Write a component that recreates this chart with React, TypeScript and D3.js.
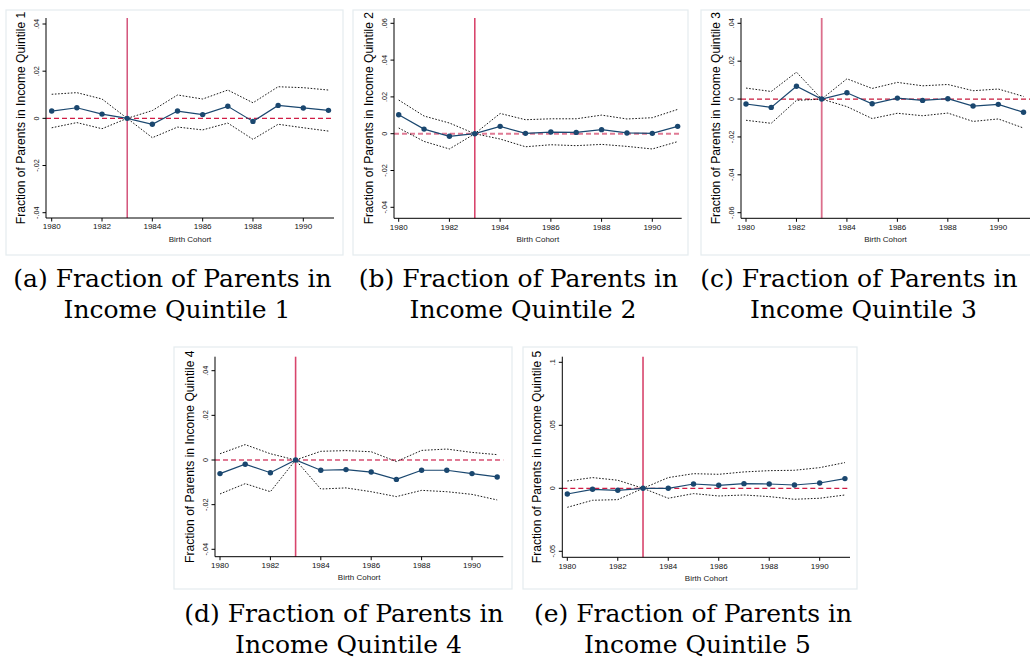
import React from "react";
import * as d3 from "d3";

const years = [1980, 1981, 1982, 1983, 1984, 1985, 1986, 1987, 1988, 1989, 1990, 1991];
const xTicks = [1980, 1982, 1984, 1986, 1988, 1990];
const refYear = 1983;

const q1Coef = [0.0031, 0.0045, 0.0018, 0, -0.0025, 0.0031, 0.0016, 0.0051, -0.0013, 0.0055, 0.0044, 0.0034];
const q1Upper = [0.0102, 0.0109, 0.0082, 0, 0.0033, 0.0099, 0.0082, 0.012, 0.0066, 0.0134, 0.013, 0.012];
const q1Lower = [-0.004, -0.0018, -0.0044, 0, -0.0082, -0.0037, -0.0049, -0.002, -0.0089, -0.0025, -0.004, -0.0054];

const q2Coef = [0.0103, 0.0025, -0.0014, 0, 0.004, 0.0002, 0.0009, 0.0007, 0.0022, 0.0004, 0.0002, 0.004];
const q2Upper = [0.0183, 0.0096, 0.0058, 0, 0.011, 0.0076, 0.0081, 0.0081, 0.0101, 0.008, 0.0087, 0.0132];
const q2Lower = [0.0031, -0.0042, -0.0083, 0, -0.0029, -0.0071, -0.006, -0.0065, -0.0058, -0.0069, -0.0083, -0.0043];

const q3Coef = [-0.0026, -0.0044, 0.0068, 0, 0.0033, -0.0025, 0.0005, -0.0007, 0.0002, -0.0037, -0.0028, -0.007];
const q3Upper = [0.0058, 0.004, 0.0142, 0, 0.0107, 0.0056, 0.0088, 0.007, 0.0077, 0.0044, 0.0053, 0.0014];
const q3Lower = [-0.0112, -0.0128, -0.0007, 0, -0.004, -0.0103, -0.0075, -0.0088, -0.0074, -0.0118, -0.0105, -0.0153];

const q4Coef = [-0.0061, -0.0019, -0.0057, 0, -0.0046, -0.0043, -0.0054, -0.0087, -0.0046, -0.0046, -0.0061, -0.0076];
const q4Upper = [0.0028, 0.0069, 0.0028, 0, 0.0039, 0.0042, 0.0037, -0.0007, 0.0043, 0.0049, 0.0034, 0.0024];
const q4Lower = [-0.0152, -0.0106, -0.0142, 0, -0.013, -0.0125, -0.0142, -0.0164, -0.0136, -0.0142, -0.0154, -0.0179];

const q5Coef = [-0.0045, -0.0008, -0.0016, 0, 0, 0.0034, 0.0024, 0.0037, 0.0034, 0.0026, 0.0042, 0.0077];
const q5Upper = [0.0058, 0.0085, 0.0064, 0, 0.0085, 0.0116, 0.0111, 0.013, 0.014, 0.0143, 0.0164, 0.0204];
const q5Lower = [-0.0151, -0.0095, -0.009, 0, -0.0079, -0.0042, -0.0061, -0.0053, -0.0066, -0.0087, -0.0079, -0.0053];

const yTicks1 = [-0.04, -0.02, 0, 0.02, 0.04];
const yLabels1 = ["-.04", "-.02", "0", ".02", ".04"];
const yTicks2 = [-0.04, -0.02, 0, 0.02, 0.04, 0.06];
const yLabels2 = ["-.04", "-.02", "0", ".02", ".04", ".06"];
const yTicks3 = [-0.06, -0.04, -0.02, 0, 0.02, 0.04];
const yLabels3 = ["-.06", "-.04", "-.02", "0", ".02", ".04"];
const yTicks4 = [-0.04, -0.02, 0, 0.02, 0.04];
const yLabels4 = ["-.04", "-.02", "0", ".02", ".04"];
const yTicks5 = [-0.05, 0, 0.05, 0.1];
const yLabels5 = ["-.05", "0", ".05", ".1"];

const yTitles = [
  "Fraction of Parents in Income Quintile 1",
  "Fraction of Parents in Income Quintile 2",
  "Fraction of Parents in Income Quintile 3",
  "Fraction of Parents in Income Quintile 4",
  "Fraction of Parents in Income Quintile 5",
];
const xTitle = "Birth Cohort";
const captionLine1 = [
  "(a) Fraction of Parents in",
  "(b) Fraction of Parents in",
  "(c) Fraction of Parents in",
  "(d) Fraction of Parents in",
  "(e) Fraction of Parents in",
];
const captionLine2 = [
  "Income Quintile 1",
  "Income Quintile 2",
  "Income Quintile 3",
  "Income Quintile 4",
  "Income Quintile 5",
];

// layout (pixel geometry per panel)
const layouts = [
  { fx0: 6, fx1: 343, fy0: 10, fy1: 255, axX: 46, axTop: 18, axBot: 218, yMinPx: 212.7, yMaxPx: 24, x1980: 51.7, x1990: 303.3, axRight: 334, capX: 172.5, capY: 287, zeroCol: "#d01c44", zeroW: 1.3, vCol: "#c8285a", vW: 1.2 },
  { fx0: 353, fx1: 688, fy0: 10, fy1: 255, axX: 394, axTop: 18, axBot: 218.3, yMinPx: 207.3, yMaxPx: 23.3, x1980: 398.7, x1990: 652.3, axRight: 681.7, capX: 518.5, capY: 287, zeroCol: "#e07a94", zeroW: 2, vCol: "#d8456c", vW: 1.6 },
  { fx0: 701, fx1: 1034, fy0: 10, fy1: 255, axX: 741, axTop: 18, axBot: 218.3, yMinPx: 212.7, yMaxPx: 23.3, x1980: 746, x1990: 998.3, axRight: 1030, capX: 859, capY: 287, zeroCol: "#c81a3c", zeroW: 1.3, vCol: "#dc6f8c", vW: 1.8 },
  { fx0: 174, fx1: 512, fy0: 347, fy1: 589, axX: 215, axTop: 356.7, axBot: 556.7, yMinPx: 549.3, yMaxPx: 370.7, x1980: 220, x1990: 472, axRight: 503.3, capX: 344, capY: 621.5, zeroCol: "#e07a94", zeroW: 2, vCol: "#d8456c", vW: 1.6 },
  { fx0: 523, fx1: 857, fy0: 347, fy1: 589, axX: 562.3, axTop: 356.7, axBot: 557.3, yMinPx: 551.3, yMaxPx: 362.3, x1980: 567.3, x1990: 819.7, axRight: 850, capX: 693, capY: 621.5, zeroCol: "#d01c44", zeroW: 1.3, vCol: "#d8456c", vW: 1.6 },
];

const panelData = [
  { coef: q1Coef, upper: q1Upper, lower: q1Lower, yTicks: yTicks1, yLabels: yLabels1 },
  { coef: q2Coef, upper: q2Upper, lower: q2Lower, yTicks: yTicks2, yLabels: yLabels2 },
  { coef: q3Coef, upper: q3Upper, lower: q3Lower, yTicks: yTicks3, yLabels: yLabels3 },
  { coef: q4Coef, upper: q4Upper, lower: q4Lower, yTicks: yTicks4, yLabels: yLabels4 },
  { coef: q5Coef, upper: q5Upper, lower: q5Lower, yTicks: yTicks5, yLabels: yLabels5 },
];

const sans = "'Liberation Sans', Arial, sans-serif";
const serif = "'DejaVu Serif', serif";
const navy = "#1a476f";

function Panel({ idx }: { idx: number }) {
  const L = layouts[idx];
  const D = panelData[idx];
  const x = d3.scaleLinear().domain([1980, 1990]).range([L.x1980, L.x1990]);
  const yMin = D.yTicks[0];
  const yMax = D.yTicks[D.yTicks.length - 1];
  const y = d3.scaleLinear().domain([yMin, yMax]).range([L.yMinPx, L.yMaxPx]);
  const line = d3
    .line<number>()
    .x((_, i) => x(years[i]))
    .y((v) => y(v));
  const yMid = (L.axTop + L.axBot) / 2;
  const xMid = (L.axX + L.axRight) / 2;
  return (
    <g>
      <rect x={L.fx0} y={L.fy0} width={L.fx1 - L.fx0} height={L.fy1 - L.fy0} fill="#ffffff" stroke="#e4ecef" strokeWidth={1.2} />
      <line x1={L.axX} x2={L.axRight} y1={y(0)} y2={y(0)} stroke={L.zeroCol} strokeWidth={L.zeroW} strokeDasharray="5,3" />
      <line x1={x(refYear)} x2={x(refYear)} y1={L.axTop} y2={L.axBot} stroke={L.vCol} strokeWidth={L.vW} />
      <path d={line(D.upper) || ""} fill="none" stroke="#1a1a1a" strokeWidth={1} strokeDasharray="1.6,1.6" />
      <path d={line(D.lower) || ""} fill="none" stroke="#1a1a1a" strokeWidth={1} strokeDasharray="1.6,1.6" />
      <path d={line(D.coef) || ""} fill="none" stroke={navy} strokeWidth={1.2} />
      {D.coef.map((v, i) => (
        <circle key={i} cx={x(years[i])} cy={y(v)} r={2.7} fill={navy} />
      ))}
      <line x1={L.axX} x2={L.axX} y1={L.axTop} y2={L.axBot} stroke="#000" strokeWidth={1} />
      <line x1={L.axX} x2={L.axRight} y1={L.axBot} y2={L.axBot} stroke="#000" strokeWidth={1} />
      {D.yTicks.map((t, i) => (
        <g key={i}>
          <line x1={L.axX - 3.5} x2={L.axX} y1={y(t)} y2={y(t)} stroke="#000" strokeWidth={1} />
          <text
            transform={`translate(${L.axX - 7.5},${y(t)}) rotate(-90)`}
            textAnchor="middle"
            fontFamily={sans}
            fontSize={7.3}
            fill="#111"
          >
            {D.yLabels[i]}
          </text>
        </g>
      ))}
      {xTicks.map((t) => (
        <g key={t}>
          <line x1={x(t)} x2={x(t)} y1={L.axBot} y2={L.axBot + 3.5} stroke="#000" strokeWidth={1} />
          <text x={x(t)} y={L.axBot + 11.3} textAnchor="middle" fontFamily={sans} fontSize={8} fill="#111">
            {t}
          </text>
        </g>
      ))}
      <text x={xMid} y={L.axBot + 23.5} textAnchor="middle" fontFamily={sans} fontSize={8} fill="#222">
        {xTitle}
      </text>
      <text
        transform={`translate(${L.axX - 21.5},${yMid}) rotate(-90)`}
        textAnchor="middle"
        fontFamily={sans}
        fontSize={12.1}
        fill="#000"
      >
        {yTitles[idx]}
      </text>
      <text x={L.capX} y={L.capY} textAnchor="middle" fontFamily={serif} fontSize={25} fill="#000">
        {captionLine1[idx]}
      </text>
      <text x={L.capX + 4.5} y={L.capY + 31.3} textAnchor="middle" fontFamily={serif} fontSize={25} fill="#000">
        {captionLine2[idx]}
      </text>
    </g>
  );
}

export default function App() {
  return (
    <svg
      width={1030}
      height={662}
      viewBox="0 0 1030 662"
      style={{ position: "absolute", left: 0, top: 0, background: "#fff" }}
    >
      <rect x={0} y={0} width={1030} height={662} fill="#fff" />
      {layouts.map((_, i) => (
        <Panel key={i} idx={i} />
      ))}
    </svg>
  );
}
